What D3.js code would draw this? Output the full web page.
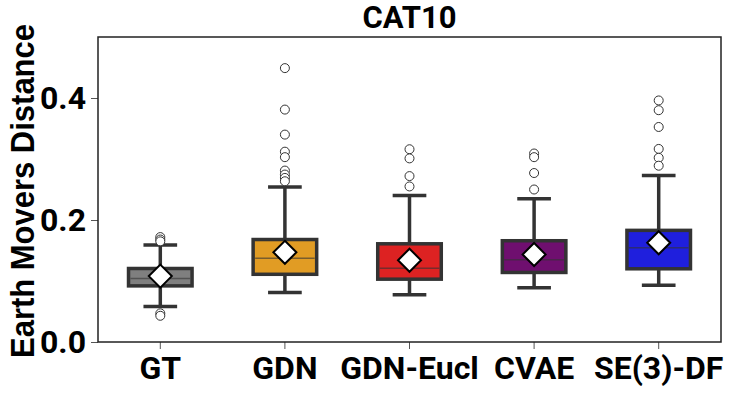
<!DOCTYPE html>
<html lang="en">
    <head>
        <meta charset="utf-8">
        <title>CAT10 boxplot</title>
        <script type="text/javascript" src="https://d3js.org/d3.v7.min.js"></script>
        <style type="text/css">
            body { margin: 0; background: #fff; }
            .title { font-family: Roboto, sans-serif; font-weight: bold; font-size: 31px; }
            .tick text { font-family: Roboto, sans-serif; font-weight: bold; font-size: 32px; fill: #000; }
            .ylab { font-family: "Liberation Sans Narrow", "Liberation Sans", Arial, sans-serif; font-weight: bold; font-size: 33px; }
        </style>
    </head>
    <body>
        <script type="text/javascript">

            const svgW = 731;
            const svgH = 393;

            // data
            const categories = ["GT", "GDN", "GDN-Eucl", "CVAE", "SE(3)-DF"];
            const colors = ["#7f7f7f", "#e19c24", "#dd2222", "#6f0f6f", "#1f1fdd"];
            const whiskLo = [0.058, 0.081, 0.0775, 0.089, 0.093];
            const q1 = [0.092, 0.111, 0.103, 0.114, 0.120];
            const medians = [0.104, 0.1375, 0.121, 0.135, 0.1545];
            const q3 = [0.1205, 0.168, 0.161, 0.166, 0.183];
            const whiskHi = [0.159, 0.254, 0.240, 0.235, 0.273];
            const means = [0.108, 0.147, 0.134, 0.1435, 0.1627];
            const outliers = [
                [0.172, 0.168, 0.165, 0.047, 0.043],
                [0.449, 0.381, 0.340, 0.312, 0.303, 0.281, 0.2745, 0.269, 0.2635],
                [0.316, 0.301, 0.272, 0.255],
                [0.309, 0.303, 0.277, 0.250],
                [0.396, 0.380, 0.3525, 0.3165, 0.302, 0.289]
            ];
            const yTicks = [0.0, 0.2, 0.4];

            const margin = {left: 98, right: 10, top: 37, bottom: 51};

            const x = d3.scaleBand()
                .domain(categories)
                .range([margin.left, svgW - margin.right]);
            const y = d3.scaleLinear()
                .domain([0, 0.5])
                .range([svgH - margin.bottom, margin.top]);

            const svg = d3.select("body")
                .append("svg")
                .attr("width", svgW)
                .attr("height", svgH);

            // axes
            svg.append("g")
                .attr("transform", "translate(" + margin.left + ",0)")
                .call(d3.axisLeft(y).tickValues(yTicks).tickFormat(d3.format(".1f")).tickSize(7).tickPadding(5))
                .call(g => g.select(".domain").remove())
                .call(g => g.selectAll(".tick line").attr("stroke", "#555"));

            svg.append("g")
                .attr("transform", "translate(0," + (svgH - margin.bottom) + ")")
                .call(d3.axisBottom(x).tickSize(7).tickPadding(7))
                .call(g => g.select(".domain").remove())
                .call(g => g.selectAll(".tick line").attr("stroke", "#555"))
                .call(g => g.selectAll(".tick text").attr("dy", "0.72em"));

            // frame
            svg.append("rect")
                .attr("x", margin.left)
                .attr("y", margin.top)
                .attr("width", svgW - margin.left - margin.right)
                .attr("height", svgH - margin.top - margin.bottom)
                .attr("fill", "none")
                .attr("stroke", "#222")
                .attr("stroke-width", 1.5);

            const boxW = x.bandwidth() * 0.51;
            const capW = boxW * 0.53;
            const dark = "#333";

            const groups = svg.selectAll(".box")
                .data(categories)
                .enter()
                .append("g")
                .attr("class", "box")
                .attr("transform", d => "translate(" + (x(d) + x.bandwidth() / 2) + ",0)");

            // whiskers
            groups.append("line")
                .attr("y1", (d, i) => y(whiskLo[i]))
                .attr("y2", (d, i) => y(q1[i]))
                .attr("stroke", dark).attr("stroke-width", 3.5);
            groups.append("line")
                .attr("y1", (d, i) => y(q3[i]))
                .attr("y2", (d, i) => y(whiskHi[i]))
                .attr("stroke", dark).attr("stroke-width", 3.5);
            groups.append("line")
                .attr("x1", -capW / 2).attr("x2", capW / 2)
                .attr("y1", (d, i) => y(whiskLo[i])).attr("y2", (d, i) => y(whiskLo[i]))
                .attr("stroke", dark).attr("stroke-width", 3.5);
            groups.append("line")
                .attr("x1", -capW / 2).attr("x2", capW / 2)
                .attr("y1", (d, i) => y(whiskHi[i])).attr("y2", (d, i) => y(whiskHi[i]))
                .attr("stroke", dark).attr("stroke-width", 3.5);

            // boxes
            groups.append("rect")
                .attr("x", -boxW / 2)
                .attr("width", boxW)
                .attr("y", (d, i) => y(q3[i]))
                .attr("height", (d, i) => y(q1[i]) - y(q3[i]))
                .attr("fill", (d, i) => colors[i])
                .attr("stroke", dark)
                .attr("stroke-width", 3.5);

            // medians
            groups.append("line")
                .attr("x1", -boxW / 2 + 2).attr("x2", boxW / 2 - 2)
                .attr("y1", (d, i) => y(medians[i])).attr("y2", (d, i) => y(medians[i]))
                .attr("stroke", dark).attr("stroke-opacity", 0.6).attr("stroke-width", 1.5);

            // outliers
            groups.selectAll("circle")
                .data((d, i) => outliers[i])
                .enter()
                .append("circle")
                .attr("cy", v => y(v))
                .attr("r", 4.5)
                .attr("fill", "#fff")
                .attr("stroke", dark)
                .attr("stroke-width", 1);

            // means
            const dm = 11.5;
            groups.append("path")
                .attr("d", (d, i) => {
                    const cy = y(means[i]);
                    return "M0," + (cy - dm) + "L" + dm + "," + cy + "L0," + (cy + dm) + "L" + (-dm) + "," + cy + "Z";
                })
                .attr("fill", "#fff")
                .attr("stroke", "#000")
                .attr("stroke-width", 2);

            // title
            svg.append("text")
                .attr("class", "title")
                .attr("text-anchor", "middle")
                .attr("x", (margin.left + svgW - margin.right) / 2)
                .attr("y", 28)
                .text("CAT10");

            // y label, squeezed to the length it has in the picture
            svg.append("text")
                .attr("class", "ylab")
                .attr("text-anchor", "middle")
                .attr("textLength", 334)
                .attr("lengthAdjust", "spacingAndGlyphs")
                .attr("transform", "translate(34," + 191 + ") rotate(-90)")
                .text("Earth Movers Distance");

        </script>
    </body>
</html>
